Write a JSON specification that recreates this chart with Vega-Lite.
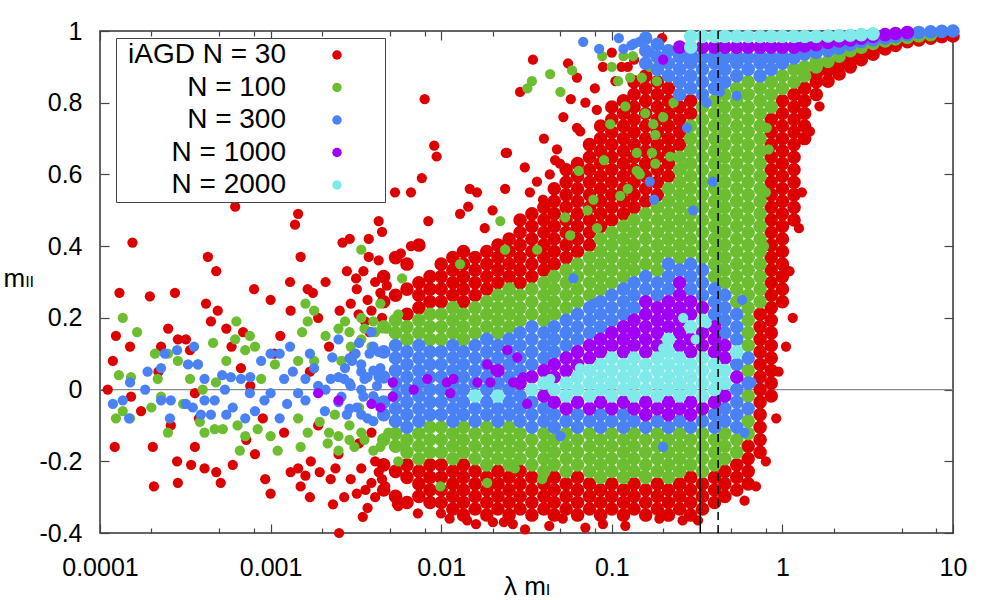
{
  "$schema": "https://vega.github.io/schema/vega-lite/v6.json",
  "description": "Scatter of m_II against lambda m_I for iAGD runs with N = 30 to 2000",
  "width": 853,
  "height": 502,
  "autosize": {"type": "none"},
  "padding": {"left": 100, "top": 31, "right": 47, "bottom": 67},
  "background": "white",
  "config": {
    "view": {"stroke": "#333", "strokeWidth": 1.5},
    "axis": {
      "labelFont": "Liberation Sans",
      "labelFontSize": 25,
      "labelColor": "#000",
      "titleFont": "Liberation Sans, DejaVu Sans",
      "titleFontSize": 26,
      "titleFontWeight": "normal",
      "titleColor": "#000",
      "tickColor": "#444",
      "tickWidth": 1.2,
      "grid": false,
      "domain": false,
      "labelOverlap": false,
      "labelFlush": false
    }
  },
  "datasets": {
    "r_sparse": [
      {"x":0.000111,"y":0.0},{"x":0.000119,"y":0.08},{"x":0.000124,"y":0.15},{"x":0.000122,"y":-0.16},{"x":0.000155,"y":0.41},{"x":0.00015,"y":0.12},{"x":0.000152,"y":-0.02},{"x":0.000174,"y":-0.06},{"x":0.000204,"y":-0.16},{"x":0.000207,"y":-0.27},{"x":0.000196,"y":0.26},{"x":0.000228,"y":0.12},{"x":0.000251,"y":0.17},{"x":0.000275,"y":0.27},{"x":0.000286,"y":0.14},{"x":0.000319,"y":0.14},{"x":0.000337,"y":0.11},{"x":0.000283,"y":-0.2},{"x":0.000286,"y":-0.26},{"x":0.000342,"y":-0.21},{"x":0.000429,"y":0.37},{"x":0.00048,"y":0.33},{"x":0.000418,"y":0.24},{"x":0.000447,"y":0.19},{"x":0.00049,"y":0.22},{"x":0.00036,"y":-0.16},{"x":0.00036,"y":-0.01},{"x":0.00038,"y":-0.08},{"x":0.00041,"y":-0.22},{"x":0.00048,"y":-0.23},{"x":0.00051,"y":-0.26},{"x":0.0006,"y":-0.21},{"x":0.00062,"y":0.51},{"x":0.00055,"y":0.17},{"x":0.00059,"y":0.12},{"x":0.00069,"y":0.16},{"x":0.00067,"y":0.06},{"x":0.00076,"y":0.01},{"x":0.00072,"y":-0.14},{"x":0.00081,"y":-0.18},{"x":0.00093,"y":-0.25},{"x":0.001,"y":-0.29},{"x":0.001,"y":0.25},{"x":0.00114,"y":0.15},{"x":0.00131,"y":0.22},{"x":0.00139,"y":0.46},{"x":0.00145,"y":0.49},{"x":0.0015,"y":0.37},{"x":0.00165,"y":0.28},{"x":0.00177,"y":0.27},{"x":0.00131,"y":-0.23},{"x":0.00145,"y":-0.22},{"x":0.0016,"y":-0.24},{"x":0.0015,"y":-0.27},{"x":0.00172,"y":-0.2},{"x":0.00194,"y":-0.23},{"x":0.00225,"y":-0.25},{"x":0.00232,"y":-0.32},{"x":0.0025,"y":-0.18},{"x":0.00264,"y":0.41},{"x":0.00291,"y":0.42},{"x":0.00254,"y":0.22},{"x":0.00295,"y":0.24},{"x":0.00317,"y":0.31},{"x":0.00328,"y":0.21},{"x":0.00358,"y":0.19},{"x":0.00376,"y":0.37},{"x":0.00376,"y":0.42},{"x":0.0045,"y":0.44},{"x":0.0043,"y":0.47},{"x":0.00536,"y":0.55},{"x":0.00665,"y":0.55},{"x":0.0058,"y":0.38},{"x":0.00665,"y":0.4},{"x":0.0048,"y":0.29},{"x":0.0039,"y":-0.26},{"x":0.0047,"y":-0.27},{"x":0.0055,"y":-0.32},{"x":0.0036,"y":-0.28},{"x":0.00295,"y":-0.25},
      {"x":0.0017,"y":0.05},{"x":0.0019,"y":-0.1},{"x":0.0022,"y":0.12},{"x":0.0031,"y":0.1},{"x":0.0033,"y":-0.15},{"x":0.0038,"y":0.16},{"x":0.0041,"y":-0.2},{"x":0.0021,"y":0.3},{"x":0.0035,"y":0.33},{"x":0.0044,"y":0.27},{"x":0.0034,"y":-0.22},{"x":0.0043,"y":-0.23},{"x":0.0039,"y":-0.12},{"x":0.0012,"y":-0.12},{"x":0.0008,"y":0.28},{"x":0.00026,"y":-0.1},{"x":0.00013,"y":0.27},{"x":0.00022,"y":0.05},{"x":0.0009,"y":-0.08},{"x":0.00105,"y":0.1},
      {"x":0.0027,"y":-0.3},{"x":0.0032,"y":-0.29},{"x":0.0032,"y":0.28},{"x":0.0037,"y":-0.33},{"x":0.0037,"y":0.25},{"x":0.0041,"y":0.3},{"x":0.0041,"y":-0.3},{"x":0.0045,"y":0.2},{"x":0.0045,"y":-0.25},{"x":0.0028,"y":0.33},{"x":0.0024,"y":-0.22},{"x":0.0019,"y":0.2},{"x":0.0013,"y":0.3},{"x":0.0017,"y":-0.3},{"x":0.0039,"y":0.22},{"x":0.0043,"y":0.36},
      {"x":0.00252,"y":-0.4},{"x":0.00347,"y":-0.355},{"x":0.0056,"y":-0.325},{"x":0.0073,"y":-0.345},{"x":0.00997,"y":-0.345},{"x":0.0112,"y":-0.36},{"x":0.0142,"y":-0.365},{"x":0.0201,"y":-0.37},{"x":0.0233,"y":-0.37},{"x":0.0263,"y":-0.375},{"x":0.0516,"y":-0.36},{"x":0.0887,"y":-0.375},{"x":0.19,"y":-0.36},{"x":0.26,"y":-0.365},{"x":0.043,"y":-0.38},{"x":0.07,"y":-0.385},{"x":0.12,"y":-0.38},{"x":0.32,"y":-0.365},{"x":0.031,"y":-0.39},{"x":0.016,"y":-0.375},
      {"x":0.008,"y":0.81},{"x":0.0091,"y":0.68},{"x":0.0094,"y":0.65},{"x":0.0077,"y":0.59},{"x":0.0084,"y":0.47},{"x":0.0129,"y":0.49},{"x":0.0147,"y":0.56},{"x":0.0162,"y":0.55},{"x":0.0144,"y":0.51},{"x":0.0237,"y":0.56},{"x":0.0309,"y":0.62},{"x":0.0243,"y":0.66},{"x":0.0331,"y":0.55},{"x":0.0364,"y":0.58},{"x":0.0433,"y":0.6},{"x":0.0395,"y":0.53},{"x":0.0497,"y":0.63},{"x":0.0345,"y":0.92},{"x":0.029,"y":0.83},{"x":0.0554,"y":0.91},{"x":0.0625,"y":0.87},{"x":0.0575,"y":0.81},{"x":0.052,"y":0.76},{"x":0.0625,"y":0.73},{"x":0.0817,"y":0.78},{"x":0.0887,"y":0.9},{"x":0.1,"y":0.94},{"x":0.114,"y":0.9},{"x":0.197,"y":0.98},{"x":0.0239,"y":0.66},{"x":0.0477,"y":0.67},{"x":0.0653,"y":0.72},{"x":0.0465,"y":0.64},{"x":0.0796,"y":0.84},{"x":0.124,"y":0.9},{"x":0.07,"y":0.8},{"x":0.04,"y":0.7},{"x":0.105,"y":0.86},{"x":0.135,"y":0.92},{"x":0.02,"y":0.5},{"x":0.018,"y":0.45},
      {"x":1.05,"y":0.12},{"x":1.1,"y":0.33},{"x":1.3,"y":0.55},{"x":1.45,"y":0.72},{"x":0.92,"y":-0.08},{"x":0.8,"y":-0.2},{"x":0.7,"y":-0.27},{"x":1.25,"y":0.45},{"x":1.65,"y":0.79},{"x":0.95,"y":0.05},{"x":1.15,"y":0.2},{"x":0.6,"y":-0.31}
    ],
    "r_dense": [
      {"x":0.0046,"y":-0.28},{"x":0.0046,"y":-0.21},{"x":0.0046,"y":0.245},{"x":0.0046,"y":0.315},
      {"x":0.0054,"y":-0.298},{"x":0.0054,"y":-0.228},{"x":0.0054,"y":0.263},{"x":0.0054,"y":0.368},
      {"x":0.0063,"y":-0.315},{"x":0.0063,"y":-0.245},{"x":0.0063,"y":-0.21},{"x":0.0063,"y":0.21},{"x":0.0063,"y":0.28},{"x":0.0063,"y":0.35},
      {"x":0.0074,"y":-0.298},{"x":0.0074,"y":-0.263},{"x":0.0074,"y":-0.228},{"x":0.0074,"y":0.228},{"x":0.0074,"y":0.263},{"x":0.0074,"y":0.298},{"x":0.0074,"y":0.403},
      {"x":0.0086,"y":-0.315},{"x":0.0086,"y":-0.28},{"x":0.0086,"y":-0.245},{"x":0.0086,"y":-0.21},{"x":0.0086,"y":0.245},{"x":0.0086,"y":0.28},{"x":0.0086,"y":0.315},
      {"x":0.01,"y":-0.315},{"x":0.01,"y":-0.28},{"x":0.01,"y":-0.245},{"x":0.01,"y":-0.21},{"x":0.01,"y":0.245},{"x":0.01,"y":0.28},{"x":0.01,"y":0.315},{"x":0.01,"y":0.35},
      {"x":0.0117,"y":-0.333},{"x":0.0117,"y":-0.298},{"x":0.0117,"y":-0.263},{"x":0.0117,"y":-0.228},{"x":0.0117,"y":0.263},{"x":0.0117,"y":0.298},{"x":0.0117,"y":0.333},{"x":0.0117,"y":0.368},
      {"x":0.0135,"y":-0.35},{"x":0.0135,"y":-0.315},{"x":0.0135,"y":-0.28},{"x":0.0135,"y":-0.245},{"x":0.0135,"y":-0.21},{"x":0.0135,"y":0.245},{"x":0.0135,"y":0.28},{"x":0.0135,"y":0.315},{"x":0.0135,"y":0.35},{"x":0.0135,"y":0.385},
      {"x":0.0158,"y":-0.333},{"x":0.0158,"y":-0.298},{"x":0.0158,"y":-0.263},{"x":0.0158,"y":-0.228},{"x":0.0158,"y":0.263},{"x":0.0158,"y":0.298},{"x":0.0158,"y":0.333},{"x":0.0158,"y":0.368},
      {"x":0.0185,"y":-0.35},{"x":0.0185,"y":-0.315},{"x":0.0185,"y":-0.28},{"x":0.0185,"y":-0.245},{"x":0.0185,"y":0.28},{"x":0.0185,"y":0.315},{"x":0.0185,"y":0.35},{"x":0.0185,"y":0.385},
      {"x":0.0215,"y":-0.333},{"x":0.0215,"y":-0.298},{"x":0.0215,"y":-0.263},{"x":0.0215,"y":-0.228},{"x":0.0215,"y":0.298},{"x":0.0215,"y":0.333},{"x":0.0215,"y":0.368},{"x":0.0215,"y":0.403},
      {"x":0.025,"y":-0.35},{"x":0.025,"y":-0.315},{"x":0.025,"y":-0.28},{"x":0.025,"y":-0.245},{"x":0.025,"y":0.315},{"x":0.025,"y":0.35},{"x":0.025,"y":0.385},{"x":0.025,"y":0.42},
      {"x":0.029,"y":-0.333},{"x":0.029,"y":-0.298},{"x":0.029,"y":-0.263},{"x":0.029,"y":-0.228},{"x":0.029,"y":0.298},{"x":0.029,"y":0.333},{"x":0.029,"y":0.368},{"x":0.029,"y":0.403},{"x":0.029,"y":0.438},{"x":0.029,"y":0.473},
      {"x":0.034,"y":-0.35},{"x":0.034,"y":-0.315},{"x":0.034,"y":-0.28},{"x":0.034,"y":-0.245},{"x":0.034,"y":0.315},{"x":0.034,"y":0.35},{"x":0.034,"y":0.385},{"x":0.034,"y":0.42},{"x":0.034,"y":0.455},{"x":0.034,"y":0.49},
      {"x":0.04,"y":-0.333},{"x":0.04,"y":-0.298},{"x":0.04,"y":-0.263},{"x":0.04,"y":0.333},{"x":0.04,"y":0.368},{"x":0.04,"y":0.403},{"x":0.04,"y":0.438},{"x":0.04,"y":0.473},{"x":0.04,"y":0.508},
      {"x":0.046,"y":-0.35},{"x":0.046,"y":-0.315},{"x":0.046,"y":-0.28},{"x":0.046,"y":-0.245},{"x":0.046,"y":0.35},{"x":0.046,"y":0.385},{"x":0.046,"y":0.42},{"x":0.046,"y":0.455},{"x":0.046,"y":0.49},{"x":0.046,"y":0.525},{"x":0.046,"y":0.56},
      {"x":0.054,"y":-0.333},{"x":0.054,"y":-0.298},{"x":0.054,"y":-0.263},{"x":0.054,"y":0.368},{"x":0.054,"y":0.403},{"x":0.054,"y":0.438},{"x":0.054,"y":0.473},{"x":0.054,"y":0.508},{"x":0.054,"y":0.543},{"x":0.054,"y":0.578},{"x":0.054,"y":0.613},
      {"x":0.063,"y":-0.35},{"x":0.063,"y":-0.315},{"x":0.063,"y":-0.28},{"x":0.063,"y":-0.245},{"x":0.063,"y":0.385},{"x":0.063,"y":0.42},{"x":0.063,"y":0.455},{"x":0.063,"y":0.49},{"x":0.063,"y":0.525},{"x":0.063,"y":0.56},{"x":0.063,"y":0.595},{"x":0.063,"y":0.63},
      {"x":0.074,"y":-0.333},{"x":0.074,"y":-0.298},{"x":0.074,"y":-0.263},{"x":0.074,"y":0.403},{"x":0.074,"y":0.438},{"x":0.074,"y":0.473},{"x":0.074,"y":0.508},{"x":0.074,"y":0.543},{"x":0.074,"y":0.578},{"x":0.074,"y":0.613},{"x":0.074,"y":0.648},{"x":0.074,"y":0.683},
      {"x":0.086,"y":-0.35},{"x":0.086,"y":-0.315},{"x":0.086,"y":-0.28},{"x":0.086,"y":0.455},{"x":0.086,"y":0.49},{"x":0.086,"y":0.525},{"x":0.086,"y":0.56},{"x":0.086,"y":0.595},{"x":0.086,"y":0.63},{"x":0.086,"y":0.665},{"x":0.086,"y":0.7},{"x":0.086,"y":0.735},
      {"x":0.1,"y":-0.333},{"x":0.1,"y":-0.298},{"x":0.1,"y":-0.263},{"x":0.1,"y":0.473},{"x":0.1,"y":0.508},{"x":0.1,"y":0.543},{"x":0.1,"y":0.578},{"x":0.1,"y":0.613},{"x":0.1,"y":0.648},{"x":0.1,"y":0.683},{"x":0.1,"y":0.718},{"x":0.1,"y":0.753},{"x":0.1,"y":0.788},
      {"x":0.117,"y":-0.35},{"x":0.117,"y":-0.315},{"x":0.117,"y":-0.28},{"x":0.117,"y":0.49},{"x":0.117,"y":0.525},{"x":0.117,"y":0.56},{"x":0.117,"y":0.595},{"x":0.117,"y":0.63},{"x":0.117,"y":0.665},{"x":0.117,"y":0.7},{"x":0.117,"y":0.735},{"x":0.117,"y":0.77},{"x":0.117,"y":0.805},
      {"x":0.135,"y":-0.333},{"x":0.135,"y":-0.298},{"x":0.135,"y":-0.263},{"x":0.135,"y":0.508},{"x":0.135,"y":0.543},{"x":0.135,"y":0.578},{"x":0.135,"y":0.613},{"x":0.135,"y":0.648},{"x":0.135,"y":0.683},{"x":0.135,"y":0.718},{"x":0.135,"y":0.753},{"x":0.135,"y":0.788},{"x":0.135,"y":0.823},{"x":0.135,"y":0.858},
      {"x":0.158,"y":-0.35},{"x":0.158,"y":-0.315},{"x":0.158,"y":-0.28},{"x":0.158,"y":0.525},{"x":0.158,"y":0.56},{"x":0.158,"y":0.595},{"x":0.158,"y":0.63},{"x":0.158,"y":0.665},{"x":0.158,"y":0.7},{"x":0.158,"y":0.735},{"x":0.158,"y":0.77},{"x":0.158,"y":0.805},{"x":0.158,"y":0.84},{"x":0.158,"y":0.875},
      {"x":0.185,"y":-0.333},{"x":0.185,"y":-0.298},{"x":0.185,"y":-0.263},{"x":0.185,"y":0.543},{"x":0.185,"y":0.578},{"x":0.185,"y":0.613},{"x":0.185,"y":0.648},{"x":0.185,"y":0.683},{"x":0.185,"y":0.718},{"x":0.185,"y":0.753},{"x":0.185,"y":0.788},{"x":0.185,"y":0.823},{"x":0.185,"y":0.858},
      {"x":0.215,"y":-0.35},{"x":0.215,"y":-0.315},{"x":0.215,"y":-0.28},{"x":0.215,"y":0.595},{"x":0.215,"y":0.63},{"x":0.215,"y":0.665},{"x":0.215,"y":0.7},{"x":0.215,"y":0.735},{"x":0.215,"y":0.77},{"x":0.215,"y":0.805},{"x":0.215,"y":0.84},
      {"x":0.25,"y":-0.333},{"x":0.25,"y":-0.298},{"x":0.25,"y":-0.263},{"x":0.25,"y":0.683},{"x":0.25,"y":0.718},{"x":0.25,"y":0.753},{"x":0.25,"y":0.788},
      {"x":0.29,"y":-0.35},{"x":0.29,"y":-0.315},{"x":0.29,"y":-0.28},{"x":0.29,"y":-0.245},{"x":0.29,"y":0.77},{"x":0.29,"y":0.805},
      {"x":0.34,"y":-0.333},{"x":0.34,"y":-0.298},{"x":0.34,"y":-0.263},
      {"x":0.4,"y":-0.315},{"x":0.4,"y":-0.28},{"x":0.4,"y":-0.245},
      {"x":0.46,"y":-0.298},{"x":0.46,"y":-0.263},{"x":0.46,"y":-0.228},
      {"x":0.54,"y":-0.28},{"x":0.54,"y":-0.245},{"x":0.54,"y":-0.21},
      {"x":0.63,"y":-0.263},{"x":0.63,"y":-0.228},{"x":0.63,"y":-0.193},{"x":0.63,"y":-0.158},
      {"x":0.74,"y":-0.175},{"x":0.74,"y":-0.14},{"x":0.74,"y":-0.105},{"x":0.74,"y":-0.07},{"x":0.74,"y":-0.035},{"x":0.74,"y":0},{"x":0.74,"y":0.035},{"x":0.74,"y":0.07},{"x":0.74,"y":0.105},{"x":0.74,"y":0.14},{"x":0.74,"y":0.175},{"x":0.74,"y":0.21},
      {"x":0.86,"y":-0.018},{"x":0.86,"y":0.018},{"x":0.86,"y":0.053},{"x":0.86,"y":0.088},{"x":0.86,"y":0.123},{"x":0.86,"y":0.158},{"x":0.86,"y":0.193},{"x":0.86,"y":0.228},{"x":0.86,"y":0.263},{"x":0.86,"y":0.298},{"x":0.86,"y":0.333},{"x":0.86,"y":0.368},{"x":0.86,"y":0.403},{"x":0.86,"y":0.438},{"x":0.86,"y":0.473},{"x":0.86,"y":0.508},{"x":0.86,"y":0.543},{"x":0.86,"y":0.578},{"x":0.86,"y":0.613},{"x":0.86,"y":0.648},{"x":0.86,"y":0.683},{"x":0.86,"y":0.718},{"x":0.86,"y":0.753},
      {"x":1,"y":0.245},{"x":1,"y":0.28},{"x":1,"y":0.315},{"x":1,"y":0.35},{"x":1,"y":0.385},{"x":1,"y":0.42},{"x":1,"y":0.455},{"x":1,"y":0.49},{"x":1,"y":0.525},{"x":1,"y":0.56},{"x":1,"y":0.595},{"x":1,"y":0.63},{"x":1,"y":0.665},{"x":1,"y":0.7},{"x":1,"y":0.735},{"x":1,"y":0.77},{"x":1,"y":0.805},
      {"x":1.17,"y":0.473},{"x":1.17,"y":0.508},{"x":1.17,"y":0.543},{"x":1.17,"y":0.578},{"x":1.17,"y":0.613},{"x":1.17,"y":0.648},{"x":1.17,"y":0.683},{"x":1.17,"y":0.718},{"x":1.17,"y":0.753},{"x":1.17,"y":0.788},{"x":1.17,"y":0.823},
      {"x":1.35,"y":0.7},{"x":1.35,"y":0.735},{"x":1.35,"y":0.77},{"x":1.35,"y":0.805},{"x":1.35,"y":0.84},
      {"x":1.58,"y":0.823},{"x":1.58,"y":0.858},{"x":1.58,"y":0.88},
      {"x":1.85,"y":0.86},{"x":1.85,"y":0.89},{"x":2.15,"y":0.88},{"x":2.15,"y":0.905},{"x":2.5,"y":0.9},{"x":2.5,"y":0.925},{"x":2.9,"y":0.92},{"x":2.9,"y":0.94},{"x":3.4,"y":0.935},{"x":3.4,"y":0.952},{"x":4,"y":0.95},{"x":4,"y":0.962},{"x":4.6,"y":0.96},{"x":4.6,"y":0.97},{"x":5.4,"y":0.97},{"x":6.3,"y":0.975},{"x":7.4,"y":0.98},{"x":8.6,"y":0.984},{"x":10,"y":0.986}
    ],
    "g_sparse": [
      {"x":0.000136,"y":0.2},{"x":0.000165,"y":0.16},{"x":0.000129,"y":0.04},{"x":0.000152,"y":0.035},{"x":0.000136,"y":-0.06},{"x":0.000124,"y":-0.08},{"x":0.00015,"y":-0.08},{"x":0.00021,"y":0.1},{"x":0.000218,"y":0.03},{"x":0.0002,"y":-0.05},{"x":0.000228,"y":-0.02},{"x":0.00025,"y":-0.12},{"x":0.000286,"y":0.08},{"x":0.00025,"y":0.1},{"x":0.000337,"y":0.03},{"x":0.000375,"y":0.07},{"x":0.000307,"y":-0.04},{"x":0.0004,"y":0.0},{"x":0.000385,"y":-0.09},{"x":0.00041,"y":-0.12},{"x":0.00047,"y":-0.11},{"x":0.000525,"y":-0.11},{"x":0.000478,"y":0.02},{"x":0.00055,"y":0.08},{"x":0.00046,"y":0.13},{"x":0.00063,"y":0.19},{"x":0.00062,"y":0.14},{"x":0.000756,"y":0.15},{"x":0.00081,"y":0.12},{"x":0.00071,"y":0.11},{"x":0.00064,"y":-0.1},{"x":0.00066,"y":-0.17},{"x":0.00071,"y":-0.13},{"x":0.00088,"y":0.03},{"x":0.00106,"y":0.07},{"x":0.00084,"y":-0.11},{"x":0.001,"y":-0.13},{"x":0.0011,"y":-0.17},{"x":0.0016,"y":0.24},{"x":0.0018,"y":0.22},{"x":0.00165,"y":0.19},{"x":0.00153,"y":0.16},{"x":0.00145,"y":0.08},{"x":0.0018,"y":0.08},{"x":0.00145,"y":-0.08},{"x":0.0015,"y":-0.16},{"x":0.00165,"y":-0.12},{"x":0.00216,"y":-0.15},{"x":0.00238,"y":-0.07},{"x":0.00194,"y":-0.09},{"x":0.00273,"y":0.19},{"x":0.00295,"y":0.12},{"x":0.00355,"y":0.17},{"x":0.0041,"y":0.16},{"x":0.0048,"y":0.17},{"x":0.0056,"y":0.21},{"x":0.0034,"y":0.39},{"x":0.0059,"y":0.31},{"x":0.0044,"y":0.24},{"x":0.0039,"y":0.12},{"x":0.0025,"y":-0.13},{"x":0.0031,"y":-0.16},{"x":0.00355,"y":-0.14},{"x":0.0044,"y":-0.16},{"x":0.0049,"y":-0.12},{"x":0.0056,"y":-0.2},{"x":0.0061,"y":-0.16},{"x":0.00465,"y":-0.07},{"x":0.0063,"y":-0.07},{"x":0.0026,"y":0.08},{"x":0.0029,"y":-0.1},{"x":0.0021,"y":0.15},{"x":0.0033,"y":-0.05},
      {"x":0.0029,"y":-0.14},{"x":0.0029,"y":0.16},{"x":0.0034,"y":-0.12},{"x":0.0034,"y":0.14},{"x":0.0034,"y":0.2},{"x":0.004,"y":-0.17},{"x":0.004,"y":0.19},{"x":0.0025,"y":0.17},{"x":0.0025,"y":-0.17},{"x":0.0022,"y":-0.12},
      {"x":0.0435,"y":0.88},{"x":0.0585,"y":0.89},{"x":0.1,"y":0.9},{"x":0.117,"y":0.93},{"x":0.133,"y":0.93},{"x":0.161,"y":0.94},{"x":0.109,"y":0.86},{"x":0.12,"y":0.79},{"x":0.098,"y":0.74},{"x":0.157,"y":0.77},{"x":0.175,"y":0.74},{"x":0.18,"y":0.71},{"x":0.14,"y":0.66},{"x":0.172,"y":0.66},{"x":0.146,"y":0.6},{"x":0.0878,"y":0.93},{"x":0.128,"y":0.87},{"x":0.15,"y":0.87},{"x":0.167,"y":0.9},{"x":0.184,"y":0.86},{"x":0.0222,"y":0.47},{"x":0.0237,"y":0.39},{"x":0.0365,"y":0.39},{"x":0.0129,"y":0.35},{"x":0.0533,"y":0.48},{"x":0.057,"y":0.43},{"x":0.072,"y":0.5},{"x":0.082,"y":0.45},{"x":0.102,"y":0.43},{"x":0.112,"y":0.54},{"x":0.124,"y":0.56},{"x":0.078,"y":0.53},{"x":0.14,"y":0.61},{"x":0.18,"y":0.63},{"x":0.22,"y":0.65},{"x":0.0099,"y":-0.27},{"x":0.0186,"y":-0.26},{"x":0.027,"y":-0.22},{"x":0.039,"y":-0.25},{"x":0.153,"y":-0.24},{"x":0.2,"y":0.76},{"x":0.23,"y":0.8},{"x":0.26,"y":0.62},{"x":0.064,"y":0.61},{"x":0.09,"y":0.64},{"x":0.05,"y":0.83},{"x":0.034,"y":0.86},{"x":0.032,"y":0.84},{"x":0.81,"y":0.73},{"x":0.83,"y":0.67},{"x":0.88,"y":0.79},{"x":0.8,"y":0.55},{"x":0.78,"y":0.4}
    ],
    "g_dense": [
      {"x":0.0046,"y":-0.14},{"x":0.0046,"y":0.175},
      {"x":0.0054,"y":-0.158},{"x":0.0054,"y":-0.123},{"x":0.0054,"y":0.158},{"x":0.0054,"y":0.193},
      {"x":0.0063,"y":-0.175},{"x":0.0063,"y":-0.14},{"x":0.0063,"y":0.14},{"x":0.0063,"y":0.175},
      {"x":0.0074,"y":-0.193},{"x":0.0074,"y":-0.158},{"x":0.0074,"y":-0.123},{"x":0.0074,"y":0.158},{"x":0.0074,"y":0.193},
      {"x":0.0086,"y":-0.175},{"x":0.0086,"y":-0.14},{"x":0.0086,"y":-0.105},{"x":0.0086,"y":0.14},{"x":0.0086,"y":0.175},{"x":0.0086,"y":0.21},
      {"x":0.01,"y":-0.175},{"x":0.01,"y":-0.14},{"x":0.01,"y":-0.105},{"x":0.01,"y":0.14},{"x":0.01,"y":0.175},{"x":0.01,"y":0.21},
      {"x":0.0117,"y":-0.193},{"x":0.0117,"y":-0.158},{"x":0.0117,"y":-0.123},{"x":0.0117,"y":0.158},{"x":0.0117,"y":0.193},{"x":0.0117,"y":0.228},
      {"x":0.0135,"y":-0.175},{"x":0.0135,"y":-0.14},{"x":0.0135,"y":-0.105},{"x":0.0135,"y":0.14},{"x":0.0135,"y":0.175},{"x":0.0135,"y":0.21},
      {"x":0.0158,"y":-0.193},{"x":0.0158,"y":-0.158},{"x":0.0158,"y":-0.123},{"x":0.0158,"y":0.158},{"x":0.0158,"y":0.193},{"x":0.0158,"y":0.228},
      {"x":0.0185,"y":-0.21},{"x":0.0185,"y":-0.175},{"x":0.0185,"y":-0.14},{"x":0.0185,"y":-0.105},{"x":0.0185,"y":0.175},{"x":0.0185,"y":0.21},{"x":0.0185,"y":0.245},
      {"x":0.0215,"y":-0.193},{"x":0.0215,"y":-0.158},{"x":0.0215,"y":-0.123},{"x":0.0215,"y":0.158},{"x":0.0215,"y":0.193},{"x":0.0215,"y":0.228},{"x":0.0215,"y":0.263},
      {"x":0.025,"y":-0.21},{"x":0.025,"y":-0.175},{"x":0.025,"y":-0.14},{"x":0.025,"y":-0.105},{"x":0.025,"y":0.175},{"x":0.025,"y":0.21},{"x":0.025,"y":0.245},{"x":0.025,"y":0.28},
      {"x":0.029,"y":-0.193},{"x":0.029,"y":-0.158},{"x":0.029,"y":-0.123},{"x":0.029,"y":0.193},{"x":0.029,"y":0.228},{"x":0.029,"y":0.263},
      {"x":0.034,"y":-0.21},{"x":0.034,"y":-0.175},{"x":0.034,"y":-0.14},{"x":0.034,"y":0.21},{"x":0.034,"y":0.245},{"x":0.034,"y":0.28},
      {"x":0.04,"y":-0.228},{"x":0.04,"y":-0.193},{"x":0.04,"y":-0.158},{"x":0.04,"y":-0.123},{"x":0.04,"y":0.193},{"x":0.04,"y":0.228},{"x":0.04,"y":0.263},{"x":0.04,"y":0.298},
      {"x":0.046,"y":-0.21},{"x":0.046,"y":-0.175},{"x":0.046,"y":-0.14},{"x":0.046,"y":0.21},{"x":0.046,"y":0.245},{"x":0.046,"y":0.28},{"x":0.046,"y":0.315},
      {"x":0.054,"y":-0.228},{"x":0.054,"y":-0.193},{"x":0.054,"y":-0.158},{"x":0.054,"y":-0.123},{"x":0.054,"y":0.228},{"x":0.054,"y":0.263},{"x":0.054,"y":0.298},{"x":0.054,"y":0.333},
      {"x":0.063,"y":-0.21},{"x":0.063,"y":-0.175},{"x":0.063,"y":-0.14},{"x":0.063,"y":0.245},{"x":0.063,"y":0.28},{"x":0.063,"y":0.315},{"x":0.063,"y":0.35},
      {"x":0.074,"y":-0.228},{"x":0.074,"y":-0.193},{"x":0.074,"y":-0.158},{"x":0.074,"y":-0.123},{"x":0.074,"y":0.263},{"x":0.074,"y":0.298},{"x":0.074,"y":0.333},{"x":0.074,"y":0.368},
      {"x":0.086,"y":-0.245},{"x":0.086,"y":-0.21},{"x":0.086,"y":-0.175},{"x":0.086,"y":-0.14},{"x":0.086,"y":0.28},{"x":0.086,"y":0.315},{"x":0.086,"y":0.35},{"x":0.086,"y":0.385},{"x":0.086,"y":0.42},
      {"x":0.1,"y":-0.228},{"x":0.1,"y":-0.193},{"x":0.1,"y":-0.158},{"x":0.1,"y":-0.123},{"x":0.1,"y":0.298},{"x":0.1,"y":0.333},{"x":0.1,"y":0.368},{"x":0.1,"y":0.403},{"x":0.1,"y":0.438},
      {"x":0.117,"y":-0.245},{"x":0.117,"y":-0.21},{"x":0.117,"y":-0.175},{"x":0.117,"y":-0.14},{"x":0.117,"y":0.315},{"x":0.117,"y":0.35},{"x":0.117,"y":0.385},{"x":0.117,"y":0.42},{"x":0.117,"y":0.455},
      {"x":0.135,"y":-0.228},{"x":0.135,"y":-0.193},{"x":0.135,"y":-0.158},{"x":0.135,"y":-0.123},{"x":0.135,"y":0.333},{"x":0.135,"y":0.368},{"x":0.135,"y":0.403},{"x":0.135,"y":0.438},{"x":0.135,"y":0.473},
      {"x":0.158,"y":-0.245},{"x":0.158,"y":-0.21},{"x":0.158,"y":-0.175},{"x":0.158,"y":-0.14},{"x":0.158,"y":0.35},{"x":0.158,"y":0.385},{"x":0.158,"y":0.42},{"x":0.158,"y":0.455},{"x":0.158,"y":0.49},
      {"x":0.185,"y":-0.228},{"x":0.185,"y":-0.193},{"x":0.185,"y":-0.158},{"x":0.185,"y":-0.123},{"x":0.185,"y":0.333},{"x":0.185,"y":0.368},{"x":0.185,"y":0.403},{"x":0.185,"y":0.438},{"x":0.185,"y":0.473},{"x":0.185,"y":0.508},
      {"x":0.215,"y":-0.245},{"x":0.215,"y":-0.21},{"x":0.215,"y":-0.175},{"x":0.215,"y":-0.14},{"x":0.215,"y":0.385},{"x":0.215,"y":0.42},{"x":0.215,"y":0.455},{"x":0.215,"y":0.49},{"x":0.215,"y":0.525},{"x":0.215,"y":0.56},
      {"x":0.25,"y":-0.228},{"x":0.25,"y":-0.193},{"x":0.25,"y":-0.158},{"x":0.25,"y":-0.123},{"x":0.25,"y":0.368},{"x":0.25,"y":0.403},{"x":0.25,"y":0.438},{"x":0.25,"y":0.473},{"x":0.25,"y":0.508},{"x":0.25,"y":0.543},{"x":0.25,"y":0.578},{"x":0.25,"y":0.613},{"x":0.25,"y":0.648},
      {"x":0.29,"y":-0.21},{"x":0.29,"y":-0.175},{"x":0.29,"y":-0.14},{"x":0.29,"y":0.385},{"x":0.29,"y":0.42},{"x":0.29,"y":0.455},{"x":0.29,"y":0.49},{"x":0.29,"y":0.525},{"x":0.29,"y":0.56},{"x":0.29,"y":0.595},{"x":0.29,"y":0.63},{"x":0.29,"y":0.665},{"x":0.29,"y":0.7},{"x":0.29,"y":0.735},
      {"x":0.34,"y":-0.228},{"x":0.34,"y":-0.193},{"x":0.34,"y":-0.158},{"x":0.34,"y":-0.123},{"x":0.34,"y":0.368},{"x":0.34,"y":0.403},{"x":0.34,"y":0.438},{"x":0.34,"y":0.473},{"x":0.34,"y":0.508},{"x":0.34,"y":0.543},{"x":0.34,"y":0.578},{"x":0.34,"y":0.613},{"x":0.34,"y":0.648},{"x":0.34,"y":0.683},{"x":0.34,"y":0.718},{"x":0.34,"y":0.753},{"x":0.34,"y":0.788},
      {"x":0.4,"y":-0.21},{"x":0.4,"y":-0.175},{"x":0.4,"y":-0.14},{"x":0.4,"y":0.315},{"x":0.4,"y":0.35},{"x":0.4,"y":0.385},{"x":0.4,"y":0.42},{"x":0.4,"y":0.455},{"x":0.4,"y":0.49},{"x":0.4,"y":0.525},{"x":0.4,"y":0.56},{"x":0.4,"y":0.595},{"x":0.4,"y":0.63},{"x":0.4,"y":0.665},{"x":0.4,"y":0.7},{"x":0.4,"y":0.735},{"x":0.4,"y":0.77},{"x":0.4,"y":0.805},
      {"x":0.46,"y":-0.193},{"x":0.46,"y":-0.158},{"x":0.46,"y":-0.123},{"x":0.46,"y":0.298},{"x":0.46,"y":0.333},{"x":0.46,"y":0.368},{"x":0.46,"y":0.403},{"x":0.46,"y":0.438},{"x":0.46,"y":0.473},{"x":0.46,"y":0.508},{"x":0.46,"y":0.543},{"x":0.46,"y":0.578},{"x":0.46,"y":0.613},{"x":0.46,"y":0.648},{"x":0.46,"y":0.683},{"x":0.46,"y":0.718},{"x":0.46,"y":0.753},{"x":0.46,"y":0.788},{"x":0.46,"y":0.823},
      {"x":0.54,"y":-0.175},{"x":0.54,"y":-0.14},{"x":0.54,"y":0.245},{"x":0.54,"y":0.28},{"x":0.54,"y":0.315},{"x":0.54,"y":0.35},{"x":0.54,"y":0.385},{"x":0.54,"y":0.42},{"x":0.54,"y":0.455},{"x":0.54,"y":0.49},{"x":0.54,"y":0.525},{"x":0.54,"y":0.56},{"x":0.54,"y":0.595},{"x":0.54,"y":0.63},{"x":0.54,"y":0.665},{"x":0.54,"y":0.7},{"x":0.54,"y":0.735},{"x":0.54,"y":0.77},{"x":0.54,"y":0.805},{"x":0.54,"y":0.84},
      {"x":0.63,"y":-0.123},{"x":0.63,"y":-0.088},{"x":0.63,"y":-0.018},{"x":0.63,"y":0.053},{"x":0.63,"y":0.123},{"x":0.63,"y":0.158},{"x":0.63,"y":0.193},{"x":0.63,"y":0.228},{"x":0.63,"y":0.263},{"x":0.63,"y":0.298},{"x":0.63,"y":0.333},{"x":0.63,"y":0.368},{"x":0.63,"y":0.403},{"x":0.63,"y":0.438},{"x":0.63,"y":0.473},{"x":0.63,"y":0.508},{"x":0.63,"y":0.543},{"x":0.63,"y":0.578},{"x":0.63,"y":0.613},{"x":0.63,"y":0.648},{"x":0.63,"y":0.683},{"x":0.63,"y":0.718},{"x":0.63,"y":0.753},{"x":0.63,"y":0.788},{"x":0.63,"y":0.823},{"x":0.63,"y":0.858},
      {"x":0.74,"y":0.245},{"x":0.74,"y":0.28},{"x":0.74,"y":0.315},{"x":0.74,"y":0.35},{"x":0.74,"y":0.385},{"x":0.74,"y":0.42},{"x":0.74,"y":0.455},{"x":0.74,"y":0.49},{"x":0.74,"y":0.525},{"x":0.74,"y":0.56},{"x":0.74,"y":0.595},{"x":0.74,"y":0.63},{"x":0.74,"y":0.665},{"x":0.74,"y":0.7},{"x":0.74,"y":0.735},{"x":0.74,"y":0.77},{"x":0.74,"y":0.805},{"x":0.74,"y":0.84},
      {"x":0.86,"y":0.788},{"x":0.86,"y":0.823},{"x":0.86,"y":0.858},{"x":1,"y":0.84},{"x":1,"y":0.875},{"x":1.17,"y":0.858},{"x":1.17,"y":0.893},{"x":1.35,"y":0.875},{"x":1.35,"y":0.9},{"x":1.58,"y":0.9},{"x":1.58,"y":0.915},{"x":1.85,"y":0.915},{"x":2.15,"y":0.93},{"x":2.5,"y":0.945},{"x":2.9,"y":0.955},{"x":3.4,"y":0.965},{"x":4,"y":0.972},{"x":4.6,"y":0.978},{"x":5.4,"y":0.982},{"x":6.3,"y":0.986},{"x":7.4,"y":0.99}
    ],
    "b_sparse": [
      {"x":0.000119,"y":-0.04},{"x":0.000136,"y":-0.03},{"x":0.00015,"y":0.02},{"x":0.000148,"y":-0.08},{"x":0.000184,"y":0.0},{"x":0.00019,"y":0.05},{"x":0.000228,"y":0.06},{"x":0.00024,"y":0.1},{"x":0.000283,"y":0.11},{"x":0.000356,"y":0.12},{"x":0.000328,"y":0.07},{"x":0.000375,"y":0.07},{"x":0.000228,"y":-0.03},{"x":0.00026,"y":-0.03},{"x":0.000257,"y":-0.08},{"x":0.000319,"y":-0.04},{"x":0.00035,"y":-0.05},{"x":0.00041,"y":0.03},{"x":0.00041,"y":-0.03},{"x":0.00047,"y":-0.03},{"x":0.00039,"y":-0.07},{"x":0.000447,"y":-0.07},{"x":0.00054,"y":0.0},{"x":0.00052,"y":0.04},{"x":0.000585,"y":0.035},{"x":0.00055,"y":-0.07},{"x":0.0006,"y":-0.05},{"x":0.00067,"y":0.03},{"x":0.00076,"y":0.035},{"x":0.000756,"y":-0.01},{"x":0.00088,"y":0.08},{"x":0.001,"y":0.1},{"x":0.00113,"y":0.1},{"x":0.00081,"y":-0.06},{"x":0.00092,"y":-0.03},{"x":0.00071,"y":-0.08},{"x":0.00113,"y":-0.08},{"x":0.001,"y":-0.01},{"x":0.0012,"y":0.03},{"x":0.00135,"y":0.05},{"x":0.00145,"y":-0.01},{"x":0.0016,"y":0.03},{"x":0.0016,"y":-0.03},{"x":0.0017,"y":0.1},{"x":0.0018,"y":0.06},{"x":0.0019,"y":0.01},{"x":0.00208,"y":-0.06},{"x":0.00225,"y":0.03},{"x":0.0025,"y":0.14},{"x":0.0026,"y":-0.02},{"x":0.00273,"y":0.06},{"x":0.00295,"y":0.01},{"x":0.00315,"y":0.1},{"x":0.0032,"y":-0.05},{"x":0.00355,"y":0.03},{"x":0.0039,"y":0.16},{"x":0.0041,"y":-0.03},{"x":0.0044,"y":0.06},{"x":0.0023,"y":0.09},{"x":0.0028,"y":-0.07},{"x":0.0034,"y":0.05},{"x":0.0037,"y":-0.08},{"x":0.0038,"y":0.1},{"x":0.0042,"y":0.01},{"x":0.0021,"y":0.0},{"x":0.003,"y":0.08},{"x":0.0035,"y":-0.02},{"x":0.004,"y":0.12},{"x":0.0027,"y":0.03},{"x":0.0013,"y":0.12},{"x":0.00125,"y":-0.04},{"x":0.0033,"y":0.13},
      {"x":0.0029,"y":-0.053},{"x":0.0029,"y":0.018},{"x":0.0029,"y":0.088},{"x":0.0034,"y":-0.07},{"x":0.0034,"y":0},{"x":0.0034,"y":0.07},{"x":0.004,"y":-0.088},{"x":0.004,"y":-0.018},{"x":0.004,"y":0.053},{"x":0.0043,"y":-0.035},{"x":0.0043,"y":0.035},{"x":0.0043,"y":0.105},{"x":0.0025,"y":0.035},{"x":0.0025,"y":-0.035},{"x":0.0037,"y":0.035},
      {"x":0.068,"y":0.97},{"x":0.0843,"y":0.95},{"x":0.13,"y":0.96},{"x":0.167,"y":0.94},{"x":0.19,"y":0.96},{"x":0.276,"y":0.73},{"x":0.36,"y":0.8},{"x":0.54,"y":0.82},{"x":0.43,"y":0.83},{"x":0.167,"y":0.58},{"x":0.177,"y":0.53},{"x":0.39,"y":0.58},{"x":0.3,"y":0.5},{"x":0.0595,"y":0.31},{"x":0.078,"y":0.24},{"x":0.145,"y":0.97},{"x":0.11,"y":0.98},{"x":0.6,"y":-0.12},{"x":0.66,"y":0.02},{"x":0.58,"y":0.25},{"x":0.05,"y":-0.13},{"x":0.2,"y":-0.16},{"x":0.117,"y":0.95},{"x":0.135,"y":0.965}
    ],
    "b_dense": [
      {"x":0.0046,"y":-0.07},{"x":0.0046,"y":-0.035},{"x":0.0046,"y":0.035},{"x":0.0046,"y":0.105},
      {"x":0.0054,"y":-0.088},{"x":0.0054,"y":-0.053},{"x":0.0054,"y":-0.018},{"x":0.0054,"y":0.018},{"x":0.0054,"y":0.053},{"x":0.0054,"y":0.088},{"x":0.0054,"y":0.123},
      {"x":0.0063,"y":-0.105},{"x":0.0063,"y":-0.07},{"x":0.0063,"y":-0.035},{"x":0.0063,"y":0},{"x":0.0063,"y":0.035},{"x":0.0063,"y":0.07},{"x":0.0063,"y":0.105},
      {"x":0.0074,"y":-0.088},{"x":0.0074,"y":-0.053},{"x":0.0074,"y":-0.018},{"x":0.0074,"y":0.018},{"x":0.0074,"y":0.053},{"x":0.0074,"y":0.088},{"x":0.0074,"y":0.123},
      {"x":0.0086,"y":-0.07},{"x":0.0086,"y":-0.035},{"x":0.0086,"y":0},{"x":0.0086,"y":0.035},{"x":0.0086,"y":0.07},{"x":0.0086,"y":0.105},
      {"x":0.01,"y":-0.07},{"x":0.01,"y":-0.035},{"x":0.01,"y":0},{"x":0.01,"y":0.035},{"x":0.01,"y":0.07},{"x":0.01,"y":0.105},
      {"x":0.0117,"y":-0.088},{"x":0.0117,"y":-0.053},{"x":0.0117,"y":-0.018},{"x":0.0117,"y":0.018},{"x":0.0117,"y":0.053},{"x":0.0117,"y":0.088},{"x":0.0117,"y":0.123},
      {"x":0.0135,"y":-0.07},{"x":0.0135,"y":-0.035},{"x":0.0135,"y":0},{"x":0.0135,"y":0.035},{"x":0.0135,"y":0.07},{"x":0.0135,"y":0.105},
      {"x":0.0158,"y":-0.088},{"x":0.0158,"y":-0.053},{"x":0.0158,"y":0.018},{"x":0.0158,"y":0.053},{"x":0.0158,"y":0.088},{"x":0.0158,"y":0.123},
      {"x":0.0185,"y":-0.07},{"x":0.0185,"y":-0.035},{"x":0.0185,"y":0},{"x":0.0185,"y":0.035},{"x":0.0185,"y":0.07},{"x":0.0185,"y":0.105},{"x":0.0185,"y":0.14},
      {"x":0.0215,"y":-0.088},{"x":0.0215,"y":-0.053},{"x":0.0215,"y":0.018},{"x":0.0215,"y":0.088},{"x":0.0215,"y":0.123},
      {"x":0.025,"y":-0.07},{"x":0.025,"y":-0.035},{"x":0.025,"y":0},{"x":0.025,"y":0.035},{"x":0.025,"y":0.07},{"x":0.025,"y":0.105},{"x":0.025,"y":0.14},
      {"x":0.029,"y":-0.088},{"x":0.029,"y":-0.053},{"x":0.029,"y":-0.018},{"x":0.029,"y":0.053},{"x":0.029,"y":0.088},{"x":0.029,"y":0.123},{"x":0.029,"y":0.158},
      {"x":0.034,"y":-0.105},{"x":0.034,"y":-0.07},{"x":0.034,"y":-0.035},{"x":0.034,"y":0.07},{"x":0.034,"y":0.105},{"x":0.034,"y":0.14},{"x":0.034,"y":0.175},
      {"x":0.04,"y":-0.088},{"x":0.04,"y":-0.053},{"x":0.04,"y":0.088},{"x":0.04,"y":0.123},{"x":0.04,"y":0.158},
      {"x":0.046,"y":-0.105},{"x":0.046,"y":-0.07},{"x":0.046,"y":0.105},{"x":0.046,"y":0.14},{"x":0.046,"y":0.175},
      {"x":0.054,"y":-0.088},{"x":0.054,"y":0.123},{"x":0.054,"y":0.158},{"x":0.054,"y":0.193},
      {"x":0.063,"y":-0.105},{"x":0.063,"y":-0.07},{"x":0.063,"y":0.14},{"x":0.063,"y":0.175},{"x":0.063,"y":0.21},
      {"x":0.074,"y":-0.088},{"x":0.074,"y":0.158},{"x":0.074,"y":0.193},{"x":0.074,"y":0.228},
      {"x":0.086,"y":-0.105},{"x":0.086,"y":-0.07},{"x":0.086,"y":0.175},{"x":0.086,"y":0.21},{"x":0.086,"y":0.245},
      {"x":0.1,"y":-0.088},{"x":0.1,"y":0.193},{"x":0.1,"y":0.228},{"x":0.1,"y":0.263},
      {"x":0.117,"y":-0.105},{"x":0.117,"y":-0.07},{"x":0.117,"y":0.21},{"x":0.117,"y":0.245},{"x":0.117,"y":0.28},
      {"x":0.135,"y":-0.088},{"x":0.135,"y":0.228},{"x":0.135,"y":0.263},{"x":0.135,"y":0.298},
      {"x":0.158,"y":-0.105},{"x":0.158,"y":0.28},{"x":0.158,"y":0.315},{"x":0.158,"y":0.91},{"x":0.158,"y":0.945},{"x":0.158,"y":0.98},
      {"x":0.185,"y":-0.088},{"x":0.185,"y":0.263},{"x":0.185,"y":0.298},{"x":0.185,"y":0.893},{"x":0.185,"y":0.928},{"x":0.185,"y":0.963},
      {"x":0.215,"y":-0.105},{"x":0.215,"y":0.28},{"x":0.215,"y":0.315},{"x":0.215,"y":0.35},{"x":0.215,"y":0.875},{"x":0.215,"y":0.91},{"x":0.215,"y":0.945},
      {"x":0.25,"y":-0.088},{"x":0.25,"y":0.333},{"x":0.25,"y":0.823},{"x":0.25,"y":0.858},{"x":0.25,"y":0.893},{"x":0.25,"y":0.928},
      {"x":0.29,"y":-0.105},{"x":0.29,"y":0.28},{"x":0.29,"y":0.315},{"x":0.29,"y":0.35},{"x":0.29,"y":0.84},{"x":0.29,"y":0.875},{"x":0.29,"y":0.91},{"x":0.29,"y":0.935},
      {"x":0.34,"y":-0.088},{"x":0.34,"y":0.263},{"x":0.34,"y":0.298},{"x":0.34,"y":0.333},{"x":0.34,"y":0.823},{"x":0.34,"y":0.858},{"x":0.34,"y":0.893},{"x":0.34,"y":0.925},
      {"x":0.4,"y":-0.105},{"x":0.4,"y":-0.07},{"x":0.4,"y":0.21},{"x":0.4,"y":0.245},{"x":0.4,"y":0.28},{"x":0.4,"y":0.84},{"x":0.4,"y":0.875},{"x":0.4,"y":0.91},{"x":0.4,"y":0.93},
      {"x":0.46,"y":-0.088},{"x":0.46,"y":-0.053},{"x":0.46,"y":0.158},{"x":0.46,"y":0.193},{"x":0.46,"y":0.228},{"x":0.46,"y":0.263},{"x":0.46,"y":0.858},{"x":0.46,"y":0.893},{"x":0.46,"y":0.925},
      {"x":0.54,"y":-0.105},{"x":0.54,"y":-0.07},{"x":0.54,"y":-0.035},{"x":0.54,"y":0},{"x":0.54,"y":0.07},{"x":0.54,"y":0.14},{"x":0.54,"y":0.175},{"x":0.54,"y":0.21},{"x":0.54,"y":0.875},{"x":0.54,"y":0.91},{"x":0.54,"y":0.93},
      {"x":0.63,"y":-0.053},{"x":0.63,"y":0.018},{"x":0.63,"y":0.088},{"x":0.63,"y":0.893},{"x":0.63,"y":0.925},
      {"x":0.74,"y":0.875},{"x":0.74,"y":0.91},{"x":0.74,"y":0.93},{"x":0.86,"y":0.893},{"x":0.86,"y":0.925},{"x":1,"y":0.91},{"x":1,"y":0.93},{"x":1.17,"y":0.925},{"x":1.35,"y":0.935},{"x":1.58,"y":0.94},{"x":1.85,"y":0.945},{"x":2.15,"y":0.952},{"x":2.5,"y":0.962},{"x":2.9,"y":0.97},{"x":3.4,"y":0.975},{"x":4,"y":0.98},{"x":4.6,"y":0.985},{"x":5.4,"y":0.99},{"x":6.3,"y":0.996},{"x":7.4,"y":0.998},{"x":8.6,"y":0.999},{"x":10,"y":1.0}
    ],
    "p_sparse": [
      {"x":0.0019,"y":-0.01},{"x":0.0025,"y":-0.03},{"x":0.0039,"y":-0.04},{"x":0.0044,"y":-0.05},{"x":0.0052,"y":0.02},{"x":0.0052,"y":-0.02},{"x":0.0108,"y":0.02},{"x":0.0113,"y":-0.01},{"x":0.0186,"y":0.07},{"x":0.0207,"y":0.055},{"x":0.0244,"y":0.11},{"x":0.0279,"y":0.09},{"x":0.0163,"y":0.02},{"x":0.0194,"y":0.02},{"x":0.0264,"y":0.02},{"x":0.0302,"y":0.035},{"x":0.0319,"y":-0.04},{"x":0.0083,"y":0.03},{"x":0.0118,"y":0.03},{"x":0.0069,"y":0.0},{"x":0.2,"y":0.92}
    ],
    "p_dense": [
      {"x":0.0215,"y":0.053},{"x":0.029,"y":0.018},{"x":0.034,"y":0.035},
      {"x":0.04,"y":-0.018},{"x":0.04,"y":0.053},
      {"x":0.046,"y":-0.035},{"x":0.046,"y":0.035},{"x":0.046,"y":0.07},
      {"x":0.054,"y":-0.053},{"x":0.054,"y":0.053},{"x":0.054,"y":0.088},
      {"x":0.063,"y":-0.035},{"x":0.063,"y":0.07},{"x":0.063,"y":0.105},
      {"x":0.074,"y":-0.053},{"x":0.074,"y":0.088},{"x":0.074,"y":0.123},
      {"x":0.086,"y":-0.035},{"x":0.086,"y":0.105},{"x":0.086,"y":0.14},
      {"x":0.1,"y":-0.053},{"x":0.1,"y":0.123},{"x":0.1,"y":0.158},
      {"x":0.117,"y":-0.035},{"x":0.117,"y":0.105},{"x":0.117,"y":0.14},{"x":0.117,"y":0.175},
      {"x":0.135,"y":-0.053},{"x":0.135,"y":0.123},{"x":0.135,"y":0.158},{"x":0.135,"y":0.193},
      {"x":0.158,"y":-0.07},{"x":0.158,"y":-0.035},{"x":0.158,"y":0.105},{"x":0.158,"y":0.14},{"x":0.158,"y":0.175},{"x":0.158,"y":0.21},{"x":0.158,"y":0.245},
      {"x":0.185,"y":-0.053},{"x":0.185,"y":0.123},{"x":0.185,"y":0.158},{"x":0.185,"y":0.193},{"x":0.185,"y":0.228},
      {"x":0.215,"y":-0.07},{"x":0.215,"y":-0.035},{"x":0.215,"y":0.175},{"x":0.215,"y":0.21},{"x":0.215,"y":0.245},
      {"x":0.25,"y":-0.053},{"x":0.25,"y":0.123},{"x":0.25,"y":0.158},{"x":0.25,"y":0.193},{"x":0.25,"y":0.228},{"x":0.25,"y":0.263},{"x":0.25,"y":0.298},
      {"x":0.29,"y":-0.07},{"x":0.29,"y":-0.035},{"x":0.29,"y":0.105},{"x":0.29,"y":0.14},{"x":0.29,"y":0.21},{"x":0.29,"y":0.245},
      {"x":0.34,"y":-0.053},{"x":0.34,"y":0.123},{"x":0.34,"y":0.158},{"x":0.34,"y":0.228},
      {"x":0.4,"y":-0.035},{"x":0.4,"y":0.105},{"x":0.4,"y":0.14},{"x":0.4,"y":0.175},
      {"x":0.46,"y":-0.018},{"x":0.46,"y":0.088},{"x":0.46,"y":0.123},
      {"x":0.54,"y":0.035},
      {"x":0.25,"y":0.955},{"x":0.29,"y":0.955},{"x":0.34,"y":0.955},{"x":0.4,"y":0.955},{"x":0.46,"y":0.955},{"x":0.54,"y":0.955},{"x":0.63,"y":0.955},{"x":0.74,"y":0.955},{"x":0.86,"y":0.955},{"x":1,"y":0.955},{"x":1.17,"y":0.955},{"x":1.35,"y":0.958},{"x":1.58,"y":0.962},{"x":1.85,"y":0.968},{"x":2.15,"y":0.972},{"x":2.5,"y":0.975},{"x":2.9,"y":0.98},{"x":3.4,"y":0.985},{"x":4,"y":0.99},{"x":4.6,"y":0.993},{"x":5.4,"y":0.996}
    ],
    "c_sparse": [
      {"x":0.262,"y":0.2},{"x":0.36,"y":0.185},{"x":0.22,"y":0.14},{"x":0.31,"y":0.14},{"x":0.2,"y":0.115},{"x":0.53,"y":0.1},{"x":0.0436,"y":0.03},{"x":0.065,"y":0.06}
    ],
    "c_dense": [
      {"x":0.0158,"y":-0.018},{"x":0.0215,"y":-0.018},{"x":0.034,"y":0},
      {"x":0.04,"y":0.018},{"x":0.046,"y":0},
      {"x":0.054,"y":-0.018},{"x":0.054,"y":0.018},
      {"x":0.063,"y":0},{"x":0.063,"y":0.035},
      {"x":0.074,"y":-0.018},{"x":0.074,"y":0.018},{"x":0.074,"y":0.053},
      {"x":0.086,"y":0},{"x":0.086,"y":0.035},{"x":0.086,"y":0.07},
      {"x":0.1,"y":-0.018},{"x":0.1,"y":0.018},{"x":0.1,"y":0.053},{"x":0.1,"y":0.088},
      {"x":0.117,"y":0},{"x":0.117,"y":0.035},{"x":0.117,"y":0.07},
      {"x":0.135,"y":-0.018},{"x":0.135,"y":0.018},{"x":0.135,"y":0.053},{"x":0.135,"y":0.088},
      {"x":0.158,"y":0},{"x":0.158,"y":0.035},{"x":0.158,"y":0.07},
      {"x":0.185,"y":-0.018},{"x":0.185,"y":0.018},{"x":0.185,"y":0.053},{"x":0.185,"y":0.088},
      {"x":0.215,"y":0},{"x":0.215,"y":0.035},{"x":0.215,"y":0.07},{"x":0.215,"y":0.105},{"x":0.215,"y":0.14},
      {"x":0.25,"y":-0.018},{"x":0.25,"y":0.018},{"x":0.25,"y":0.053},{"x":0.25,"y":0.088},
      {"x":0.29,"y":0},{"x":0.29,"y":0.035},{"x":0.29,"y":0.07},{"x":0.29,"y":0.175},
      {"x":0.34,"y":-0.018},{"x":0.34,"y":0.018},{"x":0.34,"y":0.053},{"x":0.34,"y":0.088},{"x":0.34,"y":0.193},
      {"x":0.4,"y":0},{"x":0.4,"y":0.035},{"x":0.4,"y":0.07},
      {"x":0.46,"y":0.018},{"x":0.46,"y":0.053},
      {"x":0.54,"y":0.105},
      {"x":0.29,"y":0.985},{"x":0.29,"y":0.955},{"x":0.34,"y":0.985},{"x":0.4,"y":0.985},{"x":0.46,"y":0.985},{"x":0.54,"y":0.985},{"x":0.63,"y":0.985},{"x":0.74,"y":0.985},{"x":0.86,"y":0.985},{"x":1,"y":0.985},{"x":1.17,"y":0.985},{"x":1.35,"y":0.985},{"x":1.58,"y":0.985},{"x":1.85,"y":0.986},{"x":2.15,"y":0.987},{"x":2.5,"y":0.988},{"x":2.9,"y":0.99},{"x":3.4,"y":0.992}
    ]
  },
  "layer": [
    {
      "data": {"values": [{}]},
      "mark": {"type": "rule", "color": "#8a8a8a", "strokeWidth": 1.2},
      "encoding": {"y": {"datum": 0, "type": "quantitative", "axis": null}}
    },
    {
      "encoding": {
        "x": {
          "field": "x",
          "type": "quantitative",
          "scale": {"type": "log", "domain": [0.0001, 10]},
          "axis": {
            "orient": "bottom",
            "values": [0.0001, 0.0002, 0.0005, 0.0008, 0.001, 0.002, 0.005, 0.008, 0.01, 0.02, 0.05, 0.08, 0.1, 0.2, 0.5, 0.8, 1, 2, 5, 8, 10],
            "labelExpr": "indexof([0.0001, 0.001, 0.01, 0.1, 1, 10], datum.value) >= 0 ? '' + datum.value : ''",
            "tickSize": {"condition": {"test": "indexof([0.0001, 0.001, 0.01, 0.1, 1, 10], datum.value) >= 0", "value": -9}, "value": -5},
            "labelPadding": 31,
            "title": "λ mₗ",
            "titleY": 61,
            "titleBaseline": "alphabetic"
          }
        },
        "y": {
          "field": "y",
          "type": "quantitative",
          "scale": {"domain": [-0.4, 1], "nice": false, "zero": false},
          "axis": {
            "orient": "left",
            "values": [-0.4, -0.2, 0, 0.2, 0.4, 0.6, 0.8, 1],
            "labelExpr": "'' + datum.value",
            "tickSize": -9,
            "labelPadding": 27,
            "title": "mₗₗ",
            "titleAngle": 0,
            "titleAlign": "left",
            "titleBaseline": "alphabetic",
            "titleX": -97,
            "titleY": 255
          }
        }
      },
      "layer": [
        {
          "data": {"name": "r_sparse"},
          "mark": {"type": "circle", "size": 105, "opacity": 1},
          "encoding": {
            "color": {
              "datum": "iAGD N = 30",
              "type": "nominal",
              "scale": {
                "domain": ["iAGD N = 30", "N = 100", "N = 300", "N = 1000", "N = 2000"],
                "range": ["#dd0000", "#6cbe30", "#4a82f5", "#a000f5", "#80eaea"]
              },
              "legend": {
                "title": "\u00a0",
                "titleOrient": "right",
                "titlePadding": 40,
                "titleFontSize": 10,
                "orient": "none",
                "legendX": 16,
                "legendY": 7,
                "fillColor": "white",
                "strokeColor": "#444",
                "padding": 3,
                "labelFont": "Liberation Sans",
                "labelFontSize": 28,
                "labelColor": "#000",
                "labelAlign": "right",
                "labelOffset": -65,
                "labelLimit": 300,
                "symbolOffset": 204,
                "symbolSize": 90,
                "symbolType": "circle",
                "symbolStrokeWidth": 0,
                "rowPadding": 4.5
              }
            }
          }
        },
        {
          "data": {"name": "r_dense"},
          "mark": {"type": "circle", "size": 185, "opacity": 1},
          "encoding": {"color": {"datum": "iAGD N = 30", "type": "nominal"}}
        },
        {
          "data": {"name": "g_sparse"},
          "mark": {"type": "circle", "size": 105, "opacity": 1},
          "encoding": {"color": {"datum": "N = 100", "type": "nominal"}}
        },
        {
          "data": {"name": "g_dense"},
          "mark": {"type": "circle", "size": 185, "opacity": 1},
          "encoding": {"color": {"datum": "N = 100", "type": "nominal"}}
        },
        {
          "data": {"name": "b_sparse"},
          "mark": {"type": "circle", "size": 105, "opacity": 1},
          "encoding": {"color": {"datum": "N = 300", "type": "nominal"}}
        },
        {
          "data": {"name": "b_dense"},
          "mark": {"type": "circle", "size": 185, "opacity": 1},
          "encoding": {"color": {"datum": "N = 300", "type": "nominal"}}
        },
        {
          "data": {"name": "p_sparse"},
          "mark": {"type": "circle", "size": 105, "opacity": 1},
          "encoding": {"color": {"datum": "N = 1000", "type": "nominal"}}
        },
        {
          "data": {"name": "p_dense"},
          "mark": {"type": "circle", "size": 185, "opacity": 1},
          "encoding": {"color": {"datum": "N = 1000", "type": "nominal"}}
        },
        {
          "data": {"name": "c_sparse"},
          "mark": {"type": "circle", "size": 105, "opacity": 1},
          "encoding": {"color": {"datum": "N = 2000", "type": "nominal"}}
        },
        {
          "data": {"name": "c_dense"},
          "mark": {"type": "circle", "size": 185, "opacity": 1},
          "encoding": {"color": {"datum": "N = 2000", "type": "nominal"}}
        }
      ]
    },
    {
      "data": {"values": [{}]},
      "mark": {"type": "rule", "color": "#000", "strokeWidth": 1.5},
      "encoding": {"x": {"datum": 0.33, "type": "quantitative", "axis": null}}
    },
    {
      "data": {"values": [{}]},
      "mark": {"type": "rule", "color": "#000", "strokeWidth": 1.5, "strokeDash": [8, 5]},
      "encoding": {"x": {"datum": 0.42, "type": "quantitative", "axis": null}}
    },
    {
      "data": {"values": [{}]},
      "mark": {"type": "point", "opacity": 0},
      "encoding": {
        "x": {
          "datum": 1,
          "type": "quantitative",
          "axis": {
            "orient": "top",
            "values": [0.0001, 0.0002, 0.0005, 0.0008, 0.001, 0.002, 0.005, 0.008, 0.01, 0.02, 0.05, 0.08, 0.1, 0.2, 0.5, 0.8, 1, 2, 5, 8, 10],
            "labels": false,
            "title": null,
            "tickSize": {"condition": {"test": "indexof([0.0001, 0.001, 0.01, 0.1, 1, 10], datum.value) >= 0", "value": -9}, "value": -5}
          }
        },
        "y": {
          "datum": 0,
          "type": "quantitative",
          "axis": {
            "orient": "right",
            "values": [-0.4, -0.2, 0, 0.2, 0.4, 0.6, 0.8, 1],
            "labels": false,
            "title": null,
            "tickSize": -9
          }
        }
      }
    }
  ],
  "resolve": {"axis": {"x": "independent", "y": "independent"}}
}
